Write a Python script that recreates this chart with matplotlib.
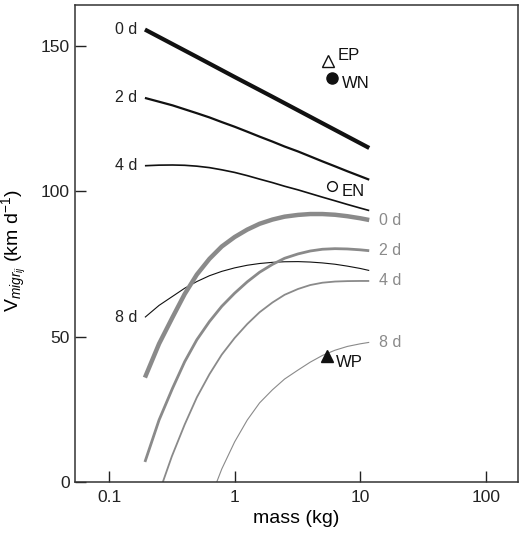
import matplotlib
matplotlib.use("Agg")
import matplotlib.pyplot as plt
from matplotlib.ticker import FixedLocator, NullLocator

plt.rcParams['font.family'] = ['Liberation Sans', 'DejaVu Sans']
plt.rcParams['mathtext.fontset'] = 'custom'
plt.rcParams['mathtext.rm'] = 'Liberation Sans'
plt.rcParams['mathtext.it'] = 'Liberation Sans:italic'

# ---- data ----
mass = [0.193, 0.25, 0.32, 0.4, 0.5, 0.63, 0.79, 1.0, 1.26, 1.58,
        2.0, 2.5, 3.2, 4.0, 5.0, 6.3, 7.9, 10.0, 11.8]

# black curves (labelled on the left)
m_b0 = [0.193, 0.5, 1.0, 2.0, 5.0, 11.8]
v_b0 = [155.5, 146.1, 139.2, 132.4, 123.3, 114.8]
v_b2 = [132.0, 130.7, 129.45, 128.1, 126.75, 125.3, 123.7, 122.1, 120.4, 118.7,
        117.0, 115.3, 113.6, 111.9, 110.2, 108.5, 106.8, 105.1, 103.9]
v_b4 = [108.7, 108.9, 108.95, 108.85, 108.55, 108.05, 107.3, 106.4, 105.3, 104.1,
        102.9, 101.65, 100.4, 99.15, 97.9, 96.65, 95.4, 94.15, 93.3]
v_b8 = [56.6, 60.7, 63.8, 66.6, 68.9, 70.9, 72.4, 73.6, 74.5, 75.1,
        75.5, 75.7, 75.75, 75.6, 75.3, 74.85, 74.2, 73.4, 72.7]

# grey curves (labelled on the right)
v_g0 = [35.9, 47.5, 56.6, 64.6, 71.3, 76.7, 80.95, 84.2, 86.75, 88.75,
        90.2, 91.2, 91.8, 92.1, 92.1, 91.85, 91.35, 90.65, 90.05]
v_g2 = [6.9, 21.3, 32.2, 41.35, 48.9, 55.15, 60.4, 64.9, 68.8, 72.1,
        74.8, 76.9, 78.4, 79.4, 80.0, 80.2, 80.1, 79.8, 79.5]
m_g4 = [0.268, 0.316, 0.4, 0.5, 0.63, 0.79, 1.0, 1.26, 1.58, 2.0,
        2.5, 3.2, 4.0, 5.0, 6.3, 7.9, 10.0, 11.8]
v_g4 = [0.0, 8.8, 19.75, 29.1, 37.05, 43.8, 49.5, 54.3, 58.35, 61.7,
        64.35, 66.35, 67.7, 68.5, 68.9, 69.05, 69.1, 69.1]
m_g8 = [0.72, 0.79, 1.0, 1.26, 1.58, 2.0, 2.5, 3.2, 4.0, 5.0, 6.3, 7.9, 10.0, 11.8]
v_g8 = [0.0, 4.5, 13.8, 21.3, 27.2, 31.7, 35.4, 38.5, 41.2, 43.5, 45.3, 46.6, 47.5, 48.0]

labels = ["0 d", "2 d", "4 d", "8 d"]

# individual points
pt_names = ["EP", "WN", "EN", "WP"]
pt_mass = [5.57, 6.0, 6.0, 5.47]
pt_v = [144.8, 139.0, 101.6, 43.3]

x_ticks = [0.1, 1, 10, 100]
x_ticklabels = ["0.1", "1", "10", "100"]
y_ticks = [0, 50, 100, 150]

# ---- figure ----
fig = plt.figure(figsize=(5.22, 5.35), dpi=100)
ax = fig.add_axes([0.144, 0.099, 0.848, 0.892])

black = "#111111"
grey = "#8a8a8a"

black_curves = [(m_b0, v_b0, 3.0), (mass, v_b2, 1.6), (mass, v_b4, 1.2), (mass, v_b8, 0.8)]
grey_curves = [(mass, v_g0, 3.2), (mass, v_g2, 2.0), (m_g4, v_g4, 1.3), (m_g8, v_g8, 0.8)]

for (m, v, lw), lab in zip(black_curves, labels):
    ax.plot(m, v, color=black, lw=lw, solid_capstyle='butt', solid_joinstyle='round')
    ax.annotate(lab, (m[0], v[0]), xytext=(-5.5, 0), textcoords='offset points',
                ha='right', va='center', fontsize=11.5, color='#222222')

for (m, v, lw), lab in zip(grey_curves, labels):
    ax.plot(m, v, color=grey, lw=lw, solid_capstyle='butt', solid_joinstyle='round')
    ax.annotate(lab, (m[-1], v[-1]), xytext=(7, 0), textcoords='offset points',
                ha='left', va='center', fontsize=11.5, color=grey)

# points
styles = [dict(marker='^', mfc='white', mec=black, ms=8.5, mew=1.0),
          dict(marker='o', mfc=black, mec=black, ms=8, mew=1.0),
          dict(marker='o', mfc='white', mec=black, ms=7, mew=1.0),
          dict(marker='^', mfc=black, mec=black, ms=9, mew=1.0)]
offsets = [(6.5, 4.0), (7.0, -4.3), (7.0, -3.6), (6.5, -5.0)]
for name, x, y, st, off in zip(pt_names, pt_mass, pt_v, styles, offsets):
    ax.plot([x], [y], linestyle='none', zorder=5, **st)
    ax.annotate(name, (x, y), xytext=off, textcoords='offset points',
                ha='left', va='center', fontsize=12, color='#111111')

ax.set_xscale('log')
ax.set_xlim(0.0537, 180)
ax.set_ylim(0, 164)
ax.xaxis.set_major_locator(FixedLocator(x_ticks))
ax.xaxis.set_minor_locator(NullLocator())
ax.set_xticklabels(x_ticklabels)
ax.set_yticks(y_ticks)

ax.tick_params(direction='in', length=8, width=1.0, labelsize=12.5, colors='#222222')
ax.tick_params(axis='x', pad=6)
ax.tick_params(axis='y', pad=4)
for s in ax.spines.values():
    s.set_linewidth(1.1)
    s.set_color('#333333')

ax.set_xlabel("mass (kg)", fontsize=14, labelpad=3)
ax.set_ylabel(r"$\mathrm{V}_{migr_{ij}}$ (km d$^{-1}$)", fontsize=14, labelpad=2)
ax.yaxis.set_label_coords(-0.105, 0.485)

fig.savefig("out.png", dpi=100)
